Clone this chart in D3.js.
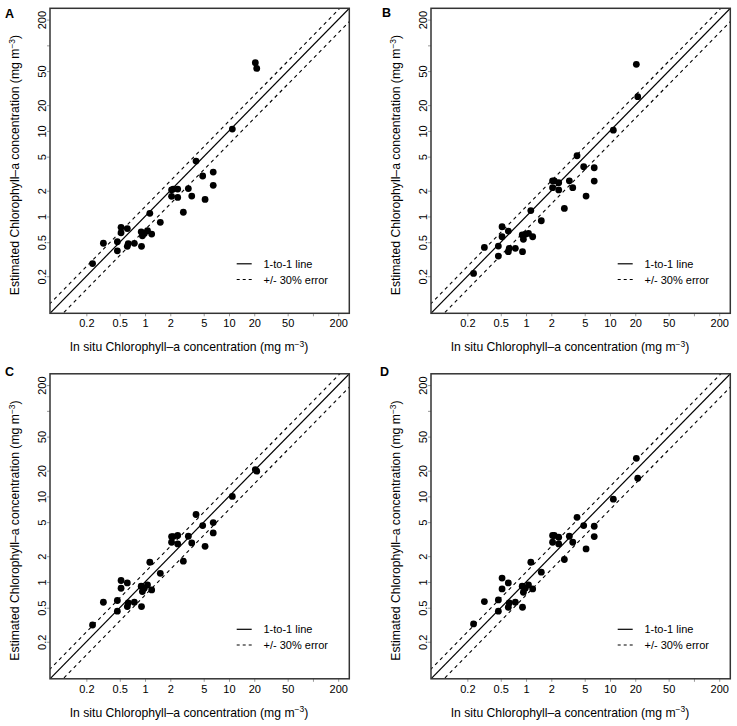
<!DOCTYPE html>
<html>
<head>
<meta charset="utf-8">
<script src="https://cdn.jsdelivr.net/npm/d3@7"></script>
<style>
  body { margin: 0; background: #fff; }
  svg { display: block; font-family: "Liberation Sans", Arial, Helvetica, sans-serif; }
</style>
</head>
<body>
<svg id="chart" width="737" height="726"></svg>
<script>
// in situ chlorophyll-a, same for all four panels (mg m-3)
const insitu = [0.237, 0.319, 0.468, 0.468, 0.518, 0.518, 0.615, 0.615, 0.631, 0.746,
    0.908, 0.90, 0.93, 0.98, 1.07, 1.20, 1.14, 1.52, 2.07, 2.17,
    2.45, 2.07, 2.45, 2.86, 3.28, 3.60, 4.05, 4.86, 5.19, 6.49,
    6.49, 10.96, 20.6, 21.4]

// estimated chlorophyll-a per panel
const estA = [0.281, 0.486, 0.506, 0.397, 0.746, 0.645, 0.722, 0.447, 0.482, 0.485,
    0.447, 0.662, 0.595, 0.634, 0.681, 0.623, 1.087, 0.853, 2.05, 2.09,
    2.09, 1.72, 1.67, 1.12, 2.12, 1.73, 4.44, 2.97, 1.58, 3.30,
    2.31, 10.5, 62.6, 53.8]
const estB = [0.216, 0.435, 0.451, 0.344, 0.758, 0.579, 0.675, 0.387, 0.424, 0.424,
    0.387, 0.607, 0.540, 0.618, 0.634, 0.579, 1.17, 0.891, 2.61, 2.61,
    2.48, 2.17, 2.04, 1.24, 2.61, 2.17, 5.12, 3.81, 1.73, 3.71,
    2.59, 10.2, 60.0, 25.1]
const estC = [0.314, 0.579, 0.607, 0.455, 1.04, 0.844, 0.973, 0.515, 0.568, 0.579,
    0.515, 0.891, 0.772, 0.844, 0.922, 0.806, 1.70, 1.26, 3.39, 3.39,
    3.49, 2.91, 2.78, 1.75, 3.42, 2.86, 6.14, 4.56, 2.61, 4.95,
    3.74, 10.0, 20.6, 19.7]
const estD = [0.323, 0.590, 0.616, 0.455, 1.11, 0.829, 0.973, 0.506, 0.568, 0.579,
    0.506, 0.891, 0.758, 0.844, 0.922, 0.829, 1.70, 1.30, 3.49, 3.49,
    3.33, 2.91, 2.78, 1.83, 3.42, 2.91, 5.70, 4.56, 2.43, 4.48,
    3.39, 9.27, 27.9, 16.3]

const panelNames = ["A", "B", "C", "D"]
const tickValues = [0.2, 0.5, 1, 2, 5, 10, 20, 50, 100, 200]
const tickLabels = ["0.2", "0.5", "1", "2", "5", "10", "20", "50", "", "200"]
const axisLimits = [0.1, 200]
const errorFactors = [1.3, 0.7]
const legendItems = ["1-to-1 line", "+/- 30% error"]

function drawPanels() {
    const svg = d3.select("#chart")
    const box = { left: 50, right: 349.3, top: 8.3, bottom: 313.3 }
    const offsets = [[0, 0], [381, 0], [0, 365.5], [381, 365.5]]
    const letterPos = [[5, 17.5], [382, 17], [5, 375.5], [380, 375.5]]
    const estimates = [estA, estB, estC, estD]

    // R style: extend log range by 4% on each side
    const logSpan = Math.log10(axisLimits[1]) - Math.log10(axisLimits[0])
    const ext = Math.pow(10, logSpan * 0.04)
    const lo = axisLimits[0] / ext, hi = axisLimits[1] * ext

    const x = d3.scaleLog().domain([lo, hi]).range([box.left, box.right])
    const y = d3.scaleLog().domain([lo, hi]).range([box.bottom, box.top])

    panelNames.forEach((name, p) => {
        const g = svg.append("g")
            .attr("transform", "translate(" + offsets[p][0] + "," + offsets[p][1] + ")")

        g.append("clipPath").attr("id", "clip" + p)
            .append("rect")
            .attr("x", box.left).attr("y", box.top)
            .attr("width", box.right - box.left).attr("height", box.bottom - box.top)

        const lines = g.append("g").attr("clip-path", "url(#clip" + p + ")")

        const diag = k => d3.line()
            .x(d => x(d))
            .y(d => y(d * k))([lo / 2, hi * 2])

        lines.append("path")
            .attr("d", diag(1))
            .attr("fill", "none").attr("stroke", "#000").attr("stroke-width", 1.2)

        errorFactors.forEach(k => {
            lines.append("path")
                .attr("d", diag(k))
                .attr("fill", "none").attr("stroke", "#000").attr("stroke-width", 1.1)
                .attr("stroke-dasharray", "3.5,3.5")
        })

        lines.selectAll("circle")
            .data(insitu.map((v, i) => [v, estimates[p][i]]))
            .join("circle")
            .attr("cx", d => x(d[0]))
            .attr("cy", d => y(d[1]))
            .attr("r", 3.4)
            .attr("fill", "#000")

        // axes
        const xAxis = d3.axisBottom(x)
            .tickValues(tickValues)
            .tickFormat((d, i) => tickLabels[i])
            .tickSize(3).tickPadding(3)
        const gx = g.append("g")
            .attr("transform", "translate(0," + box.bottom + ")")
            .call(xAxis)
        gx.select(".domain").remove()
        gx.selectAll("line").attr("stroke", "#999")
        gx.selectAll("text").attr("font-size", 11).attr("fill", "#000")
            .attr("font-family", null)

        const yAxis = d3.axisLeft(y)
            .tickValues(tickValues)
            .tickFormat((d, i) => tickLabels[i])
            .tickSize(3)
        const gy = g.append("g")
            .attr("transform", "translate(" + box.left + ",0)")
            .call(yAxis)
        gy.select(".domain").remove()
        gy.selectAll("line").attr("stroke", "#999")
        gy.selectAll("text")
            .attr("x", null).attr("dy", null)
            .attr("text-anchor", "middle")
            .attr("transform", "translate(-4.3,0) rotate(-90)")
            .attr("font-size", 11).attr("fill", "#000")
            .attr("font-family", null)

        g.append("rect")
            .attr("x", box.left).attr("y", box.top)
            .attr("width", box.right - box.left).attr("height", box.bottom - box.top)
            .attr("fill", "none").attr("stroke", "#333").attr("stroke-width", 1.5)

        // axis titles
        const xt = g.append("text")
            .attr("x", 189).attr("y", 351)
            .attr("text-anchor", "middle")
            .attr("font-size", 12.2)
            .text("In situ Chlorophyll\u2013a concentration (mg m")
        xt.append("tspan").attr("font-size", 8.5).attr("dy", -4.5).text("\u22123")
        xt.append("tspan").attr("dy", 4.5).text(")")

        const yt = g.append("text")
            .attr("transform", "translate(19,165) rotate(-90)")
            .attr("text-anchor", "middle")
            .attr("font-size", 12.2)
            .text("Estimated Chlorophyll\u2013a concentration (mg m")
        yt.append("tspan").attr("font-size", 8.5).attr("dy", -4.5).text("\u22123")
        yt.append("tspan").attr("dy", 4.5).text(")")

        // legend
        const legend = g.append("g")
        legendItems.forEach((label, i) => {
            const ly = 263.8 + i * 15.7
            legend.append("line")
                .attr("x1", 236.7).attr("x2", 251.7)
                .attr("y1", ly).attr("y2", ly)
                .attr("stroke", "#000").attr("stroke-width", 1.2)
                .attr("stroke-dasharray", i == 0 ? null : "3,3")
            legend.append("text")
                .attr("x", 263.5).attr("y", ly + 4)
                .attr("font-size", 11)
                .text(label)
        })
    })

    panelNames.forEach((name, p) => {
        svg.append("text")
            .attr("x", letterPos[p][0]).attr("y", letterPos[p][1])
            .attr("font-size", 12.5).attr("font-weight", "bold")
            .text(name)
    })
}

drawPanels()
</script>
</body>
</html>
